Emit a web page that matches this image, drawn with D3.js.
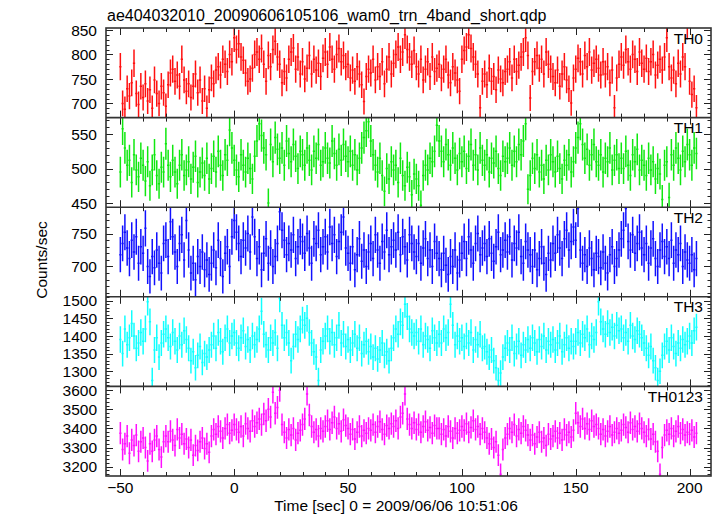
<!DOCTYPE html>
<html><head><meta charset="utf-8">
<script src="https://cdn.jsdelivr.net/npm/d3@7"></script>
<style>body{margin:0;background:#fff}svg{display:block}text{font-family:"Liberation Sans",Arial,Helvetica,sans-serif;fill:#000}</style>
</head><body><svg id="c" width="717" height="516"></svg>
<script>
const title = "ae404032010_20090606105106_wam0_trn_4band_short.qdp";
const xLabel = "Time [sec] 0 = 2009/06/06 10:51:06";
const yLabel = "Counts/sec";
const tStart = -50;           // first bin centre (s), 1 s bins
const binSize = 1;
const panelNames = ["TH0","TH1","TH2","TH3","TH0123"];
const xTicks = [-50,0,50,100,150,200];

const th0 = [
775,700,688,730,715,742,782,720,698,735,
712,740,705,728,690,748,720,700,735,722,
694,738,762,770,745,758,735,790,748,725,
740,712,735,760,722,748,705,730,690,728,
752,740,768,775,758,790,780,765,800,785,
834,810,822,795,788,762,745,750,772,800,
805,790,812,780,745,798,775,810,827,795,
780,742,765,752,790,805,813,770,795,760,
785,750,772,798,760,790,768,782,755,792,
805,780,815,790,770,800,812,785,798,775,
780,752,768,745,775,760,738,704,755,770,
762,790,748,775,755,785,740,770,795,760,
782,800,815,790,805,840,810,795,780,808,
775,760,790,748,770,785,755,795,765,772,
780,752,770,790,758,742,775,762,748,725,
790,808,815,840,812,795,780,760,691,745,
760,738,772,745,755,728,768,750,742,765,
770,785,752,790,765,778,795,805,834,798,
711,765,785,798,772,790,760,805,780,770,
755,742,768,735,760,775,748,730,701,752,
770,792,785,760,798,775,805,768,782,790,
772,758,785,760,775,742,768,691,752,780,
795,778,810,785,770,800,790,765,805,782,
770,792,765,785,800,758,778,790,768,795,
834,775,752,768,740,782,760,795,775,860,
745,718,730,691];
const th1 = [
495,558,530,505,512,480,520,498,488,515,
505,482,510,475,498,520,490,478,502,495,
536,505,488,512,495,478,505,520,490,498,
510,485,502,518,480,495,508,490,515,485,
500,518,495,525,505,490,520,512,556,530,
512,498,488,520,505,495,515,500,485,518,
540,565,548,530,520,450,535,510,545,528,
515,530,505,540,522,510,535,518,500,525,
520,505,530,512,498,525,515,535,505,510,
530,515,508,540,522,505,528,512,535,518,
510,525,505,520,498,515,530,545,555,568,
540,520,505,495,515,490,467,500,485,510,
498,505,480,515,490,475,502,488,462,492,
485,475,447,490,505,498,515,510,525,563,
540,525,510,535,520,505,530,515,498,522,
510,525,500,518,535,505,520,498,530,512,
505,520,495,515,508,525,500,490,518,510,
515,530,505,525,510,535,520,540,565,470,
490,515,500,520,495,505,485,512,498,520,
510,495,518,500,485,512,505,520,495,510,
530,545,565,535,515,528,505,520,535,510,
505,520,495,515,510,530,498,512,520,500,
515,500,525,505,490,520,510,528,498,512,
505,490,515,498,510,485,500,492,455,505,
510,458,520,505,530,515,498,525,510,535,
520,505,530,522];
const th2 = [
718,735,752,728,712,740,722,745,705,730,
720,758,700,685,715,698,725,705,690,735,
740,715,768,745,722,700,735,748,710,770,
725,690,705,680,715,700,722,695,710,688,
705,725,698,740,712,685,720,730,700,745,
770,752,735,715,740,728,750,722,775,745,
712,730,695,720,742,705,728,700,715,735,
783,755,740,718,735,725,748,712,730,745,
738,720,750,728,705,742,735,755,718,730,
745,722,760,735,748,715,738,752,775,728,
720,705,730,695,718,742,708,725,700,722,
735,712,748,725,705,738,722,755,718,730,
740,725,752,718,745,730,710,748,735,722,
715,735,705,728,742,712,725,700,738,720,
712,695,720,702,688,715,700,725,690,710,
720,738,712,745,725,705,735,750,718,728,
735,715,742,720,708,730,752,718,725,740,
722,745,710,735,728,752,715,705,738,725,
718,700,725,695,712,730,705,688,720,710,
735,720,748,728,712,742,755,725,738,760,
740,788,725,705,718,700,728,712,695,720,
715,698,722,705,690,718,730,700,712,725,
742,755,788,738,725,748,720,735,752,728,
718,735,705,728,742,712,700,725,738,715,
730,712,740,705,725,718,735,700,722,710,
705,718,695,712];
const th3 = [
1390,1350,1420,1375,1395,1435,1400,1365,1380,1410,
1385,1420,1497,1440,1274,1360,1395,1340,1380,1405,
1420,1395,1370,1410,1385,1360,1400,1375,1415,1390,
1365,1330,1355,1310,1345,1370,1325,1350,1340,1360,
1375,1400,1365,1410,1385,1355,1395,1420,1380,1400,
1410,1380,1365,1395,1415,1370,1390,1360,1400,1375,
1390,1420,1470,1405,1375,1360,1395,1380,1410,1365,
1506,1430,1395,1410,1380,1330,1370,1405,1390,1420,
1445,1430,1450,1410,1380,1355,1340,1274,1360,1385,
1400,1420,1385,1410,1375,1395,1430,1380,1405,1370,
1390,1360,1380,1405,1365,1395,1350,1375,1385,1355,
1370,1340,1365,1335,1360,1380,1345,1355,1330,1365,
1395,1420,1405,1440,1430,1490,1455,1420,1410,1400,
1410,1385,1420,1375,1400,1390,1365,1415,1395,1380,
1405,1380,1420,1395,1410,1490,1430,1375,1400,1385,
1395,1370,1400,1380,1410,1360,1390,1375,1405,1365,
1370,1355,1340,1360,1330,1310,1274,1295,1340,1365,
1380,1360,1395,1350,1370,1385,1345,1375,1360,1390,
1365,1395,1380,1355,1390,1370,1400,1360,1385,1375,
1390,1360,1380,1400,1355,1375,1395,1365,1385,1370,
1385,1410,1380,1405,1395,1420,1375,1400,1390,1410,
1497,1440,1420,1405,1435,1410,1425,1400,1430,1415,
1420,1395,1410,1385,1430,1400,1390,1415,1405,1395,
1380,1365,1345,1370,1330,1310,1274,1300,1345,1370,
1385,1360,1395,1370,1350,1380,1365,1390,1375,1385,
1400,1380,1415,1425];
const th0123 = [
3375,3290,3320,3360,3270,3340,3310,3365,3280,3330,
3350,3300,3230,3320,3280,3340,3360,3290,3250,3330,
3360,3330,3385,3340,3310,3395,3350,3370,3320,3345,
3300,3340,3260,3310,3285,3330,3350,3295,3320,3275,
3360,3395,3370,3410,3385,3350,3400,3420,3375,3390,
3420,3395,3380,3410,3360,3425,3400,3385,3440,3410,
3430,3450,3420,3475,3440,3500,3460,3590,3480,3510,
3600,3420,3380,3350,3395,3365,3400,3340,3375,3390,
3420,3450,3580,3470,3410,3380,3395,3360,3400,3385,
3410,3440,3395,3430,3460,3400,3425,3385,3445,3415,
3400,3370,3395,3345,3380,3410,3360,3390,3375,3400,
3390,3420,3380,3410,3435,3395,3370,3415,3400,3425,
3410,3440,3400,3460,3480,3580,3450,3420,3400,3430,
3395,3420,3380,3410,3435,3390,3405,3375,3415,3400,
3400,3370,3395,3360,3410,3385,3350,3400,3375,3390,
3410,3390,3425,3380,3405,3440,3395,3410,3370,3400,
3380,3350,3320,3345,3300,3330,3260,3160,3290,3350,
3370,3400,3380,3420,3360,3395,3375,3410,3390,3365,
3340,3365,3320,3355,3380,3330,3350,3310,3370,3345,
3360,3385,3350,3375,3340,3395,3365,3380,3355,3390,
3480,3430,3410,3450,3400,3425,3395,3440,3410,3420,
3400,3370,3395,3360,3385,3410,3365,3380,3400,3375,
3390,3420,3405,3380,3430,3395,3410,3385,3425,3400,
3380,3360,3395,3345,3370,3330,3280,3160,3300,3365,
3390,3370,3400,3360,3385,3410,3375,3395,3365,3380,
3370,3390,3355,3375];

const yDomains = [[671,854],[444,574],[654,790],[1257,1511],[3151,3620]];
const yMajor = [[700,750,800,850],[450,500,550],[700,750],[1300,1350,1400,1450,1500],[3200,3300,3400,3500,3600]];
const yMinorStep = [10,10,10,10,20];
const series = [th0,th1,th2,th3,th0123];
const colors = ["#ff1010","#10e810","#1010ff","#10ffff","#ff10ff"];

const svg = d3.select("#c");
const L = 106, R = 711, T = 28, B = 476;
const ph = (B - T) / 5;
const x = d3.scaleLinear().domain([-56.3, 209.4]).range([L, R]);
const xMinor = d3.range(-50, 210, 10);

svg.append("rect").attr("width",717).attr("height",516).attr("fill","#fff");

series.forEach((vals, i) => {
  const top = T + i*ph, bot = top + ph;
  const y = d3.scaleLinear().domain(yDomains[i]).range([bot, top]);
  const g = svg.append("g");
  const cid = "clip"+i;
  svg.append("clipPath").attr("id",cid).append("rect").attr("x",L).attr("y",top).attr("width",R-L).attr("height",ph);
  const data = vals.map((v,k)=>({t: tStart + k*binSize, v, e: Math.sqrt(v*binSize)/binSize}));
  let p = "";
  data.forEach(d=>{
    p += `M${x(d.t-binSize/2)},${y(d.v)}H${x(d.t+binSize/2)}M${x(d.t)},${y(d.v-d.e)}V${y(d.v+d.e)}`;
  });
  g.append("path").attr("d",p).attr("fill","none").attr("stroke",colors[i]).attr("stroke-width",1.5).attr("clip-path",`url(#${cid})`);

  // y ticks
  const [d0,d1] = yDomains[i];
  const minors = d3.range(Math.ceil(d0/yMinorStep[i])*yMinorStep[i], d1, yMinorStep[i]);
  const tk = svg.append("g").attr("stroke","#222").attr("stroke-width",1);
  minors.forEach(v=>{
    const major = yMajor[i].includes(v);
    const len = major ? 7 : 3.5;
    const yy = Math.round(y(v))+0.5;
    tk.append("line").attr("x1",L).attr("x2",L+len).attr("y1",yy).attr("y2",yy);
    tk.append("line").attr("x1",R).attr("x2",R-len).attr("y1",yy).attr("y2",yy);
  });
  yMajor[i].forEach(v=>{
    svg.append("text").attr("x",97).attr("y",y(v)).attr("dy","0.36em").attr("text-anchor","end")
      .attr("font-size",15.5).text(v);
  });
  // x ticks top and bottom of panel
  xMinor.forEach(t=>{
    const major = t % 50 === 0;
    const len = major ? 7 : 4;
    const xx = Math.round(x(t))+0.5;
    tk.append("line").attr("x1",xx).attr("x2",xx).attr("y1",top).attr("y2",top+len);
    tk.append("line").attr("x1",xx).attr("x2",xx).attr("y1",bot).attr("y2",bot-len);
  });
  svg.append("text").attr("x",703).attr("y",top+15.5).attr("text-anchor","end").attr("font-size",15.5).text(panelNames[i]);
  if (i>0) svg.append("line").attr("x1",L).attr("x2",R).attr("y1",top).attr("y2",top).attr("stroke","#333").attr("stroke-width",1.6);
});

svg.append("rect").attr("x",L).attr("y",T).attr("width",R-L).attr("height",B-T)
  .attr("fill","none").attr("stroke","#333").attr("stroke-width",1.6);

xTicks.forEach(t=>{
  svg.append("text").attr("x",x(t)).attr("y",493).attr("text-anchor","middle").attr("font-size",15.5)
    .text(t<0 ? "\u2212"+Math.abs(t) : t);
});
svg.append("text").attr("x",107).attr("y",21).attr("font-size",16).text(title);
svg.append("text").attr("x",396).attr("y",511).attr("text-anchor","middle").attr("font-size",15.5).text(xLabel);
svg.append("text").attr("transform","translate(47,260) rotate(-90)").attr("text-anchor","middle").attr("font-size",15.5).text(yLabel);
</script></body></html>
